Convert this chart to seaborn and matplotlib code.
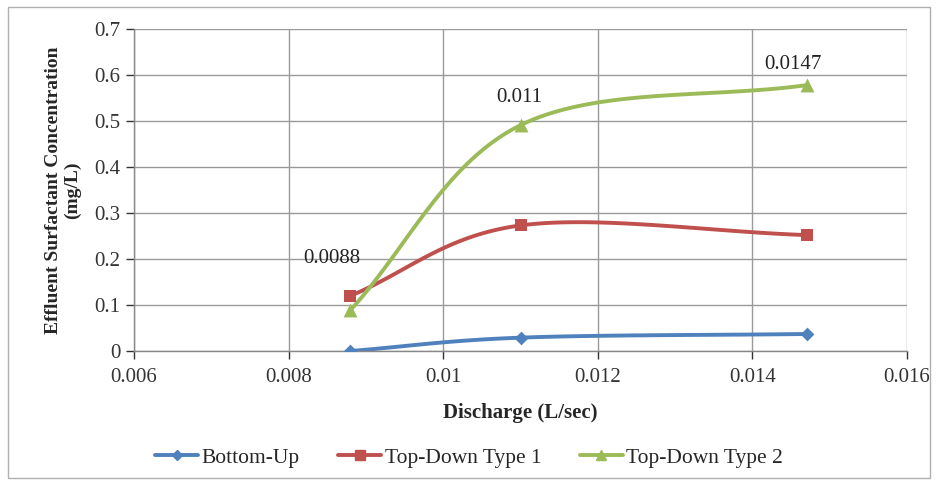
import numpy as np
import pandas as pd
import matplotlib
matplotlib.use("Agg")
import matplotlib.pyplot as plt
import seaborn as sns
from matplotlib.patches import Rectangle

# ---- data ----
discharge = [0.0088, 0.011, 0.0147]
bottom_up = [0.0, 0.029, 0.037]
top_down_1 = [0.120, 0.273, 0.252]
top_down_2 = [0.089, 0.491, 0.578]
series_names = ["Bottom-Up", "Top-Down Type 1", "Top-Down Type 2"]
point_labels = ["0.0088", "0.011", "0.0147"]
label_pos_x = [0.00856, 0.01098, 0.01452]
label_pos_y = [0.202, 0.552, 0.622]
x_ticks = [0.006, 0.008, 0.01, 0.012, 0.014, 0.016]
x_tick_labels = ["0.006", "0.008", "0.01", "0.012", "0.014", "0.016"]
y_ticks = [0, 0.1, 0.2, 0.3, 0.4, 0.5, 0.6, 0.7]
y_tick_labels = ["0", "0.1", "0.2", "0.3", "0.4", "0.5", "0.6", "0.7"]

colors = ["#4F81BD", "#C0504D", "#9BBB59"]
markers = ["D", "s", "^"]
msizes = [7, 9, 10]

sns.set_theme(style="white")
plt.rcParams["font.family"] = ["Liberation Serif", "DejaVu Serif"]


def catmull_rom(xs, ys, n=40):
    """Excel-style smoothed line rendering through the given points."""
    P = np.column_stack([xs, ys]).astype(float)
    P = np.vstack([P[0] - (P[1] - P[0]), P, P[-1] + (P[-1] - P[-2])])
    out = []
    for i in range(1, len(P) - 2):
        p0, p1, p2, p3 = P[i - 1], P[i], P[i + 1], P[i + 2]
        t = np.linspace(0, 1, n)[:, None]
        seg = 0.5 * ((2 * p1) + (-p0 + p2) * t + (2 * p0 - 5 * p1 + 4 * p2 - p3) * t ** 2
                     + (-p0 + 3 * p1 - 3 * p2 + p3) * t ** 3)
        out.append(seg if i == 1 else seg[1:])
    out = np.vstack(out)
    return out[:, 0], out[:, 1]


fig = plt.figure(figsize=(9.38, 4.82), dpi=100)
ax = fig.add_axes([0.1429, 0.2718, 0.8241, 0.668])

all_series = [bottom_up, top_down_1, top_down_2]
handles = []
for name, vals, c, m, ms in zip(series_names, all_series, colors, markers, msizes):
    sx, sy = catmull_rom(discharge, vals)
    sns.lineplot(x=sx, y=sy, ax=ax, color=c, linewidth=2.8, sort=False,
                 estimator=None, legend=False)
    sns.scatterplot(x=discharge, y=vals, ax=ax, color=c, marker=m, s=ms ** 2,
                    linewidth=0, zorder=5, legend=False)
    h, = ax.plot([], [], color=c, linewidth=2.8, marker=m, markersize=ms * 0.75)
    handles.append(h)

for lx, ly, t in zip(label_pos_x, label_pos_y, point_labels):
    ax.text(lx, ly, t, ha="center", va="center", fontsize=15, color="#222222")

ax.set_xlim(0.006, 0.016)
ax.set_ylim(0, 0.7)
ax.set_xticks(x_ticks)
ax.set_xticklabels(x_tick_labels)
ax.set_yticks(y_ticks)
ax.set_yticklabels(y_tick_labels)
ax.tick_params(axis="both", labelsize=15, colors="#333333", length=6, width=1,
               direction="out", left=True, bottom=True, pad=4)
ax.tick_params(axis="x", pad=6)
ax.grid(True, color="#9a9a9a", linewidth=1)
ax.set_axisbelow(True)
for s in ["top", "right"]:
    ax.spines[s].set_visible(False)
for s in ["left", "bottom"]:
    ax.spines[s].set_color("#888888")
    ax.spines[s].set_linewidth(1)

ax.set_xlabel("Discharge (L/sec)", fontsize=15, fontweight="bold", labelpad=12)
ax.set_ylabel("Effluent Surfactant Concentration\n(mg/L)", fontsize=14,
              fontweight="bold", labelpad=9, linespacing=1.15)

fig.legend(handles, series_names, loc="center", bbox_to_anchor=(0.5, 0.05), ncol=3,
           frameon=False, fontsize=15.5, handlelength=2.0, handletextpad=0.15,
           columnspacing=1.8)

fig.patches.append(Rectangle((0.008, 0.008), 0.984, 0.978, transform=fig.transFigure,
                             fill=False, edgecolor="#b0b0b0", linewidth=1))

fig.savefig("out.png", dpi=100)
